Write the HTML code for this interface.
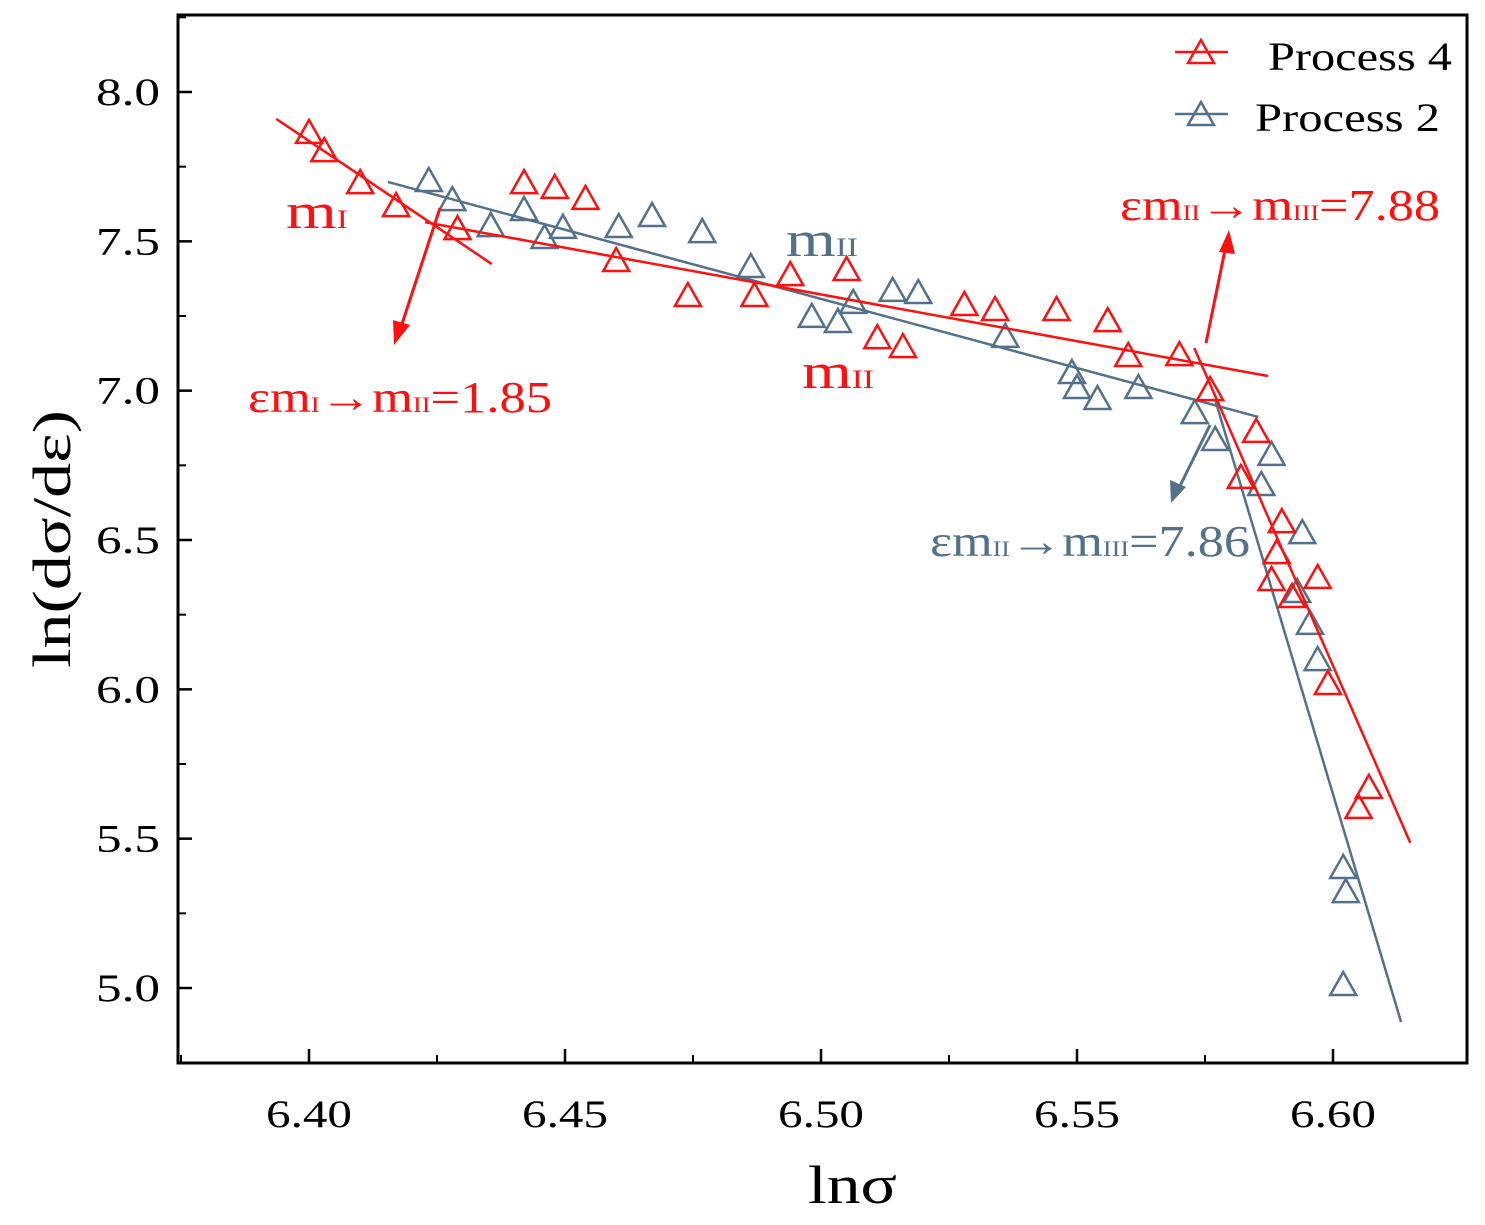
<!DOCTYPE html>
<html><head><meta charset="utf-8"><style>
body{margin:0;background:#fff}
svg text{font-family:"Liberation Serif",serif}
</style></head><body>
<svg id="chart" width="1485" height="1220" viewBox="0 0 1485 1220" xmlns="http://www.w3.org/2000/svg">
<g id="grid"></g>
<g id="marks"></g>
<g id="anno">
  <text x="286" y="228" fill="#ff1010" font-size="50" textLength="62" lengthAdjust="spacingAndGlyphs">m<tspan font-size="26">I</tspan></text>
  <text x="786" y="256" fill="#53718a" font-size="50" textLength="72" lengthAdjust="spacingAndGlyphs">m<tspan font-size="26">II</tspan></text>
  <text x="802" y="388" fill="#ff1010" font-size="50" textLength="72" lengthAdjust="spacingAndGlyphs">m<tspan font-size="26">II</tspan></text>
  <text x="248" y="412" fill="#ff1010" font-size="44" textLength="304" lengthAdjust="spacingAndGlyphs">εm<tspan font-size="22">I</tspan>→m<tspan font-size="22">II</tspan>=1.85</text>
  <text x="1120" y="220" fill="#ff1010" font-size="44" textLength="320" lengthAdjust="spacingAndGlyphs">εm<tspan font-size="22">II</tspan>→m<tspan font-size="22">III</tspan>=7.88</text>
  <text x="930" y="556" fill="#53718a" font-size="44" textLength="320" lengthAdjust="spacingAndGlyphs">εm<tspan font-size="22">II</tspan>→m<tspan font-size="22">III</tspan>=7.86</text>
  <g stroke="#ff1010" stroke-width="3" fill="#ff1010">
    <line x1="440" y1="208" x2="400" y2="330"/><polygon points="394,345 393,320 410,325" stroke="none"/></g>
  <g stroke="#ff1010" stroke-width="3" fill="#ff1010">
    <line x1="1206" y1="343" x2="1226" y2="245"/><polygon points="1229,230 1219,252 1235,254" stroke="none"/></g>
  <g stroke="#53718a" stroke-width="3" fill="#53718a">
    <line x1="1210" y1="425" x2="1178" y2="490"/><polygon points="1171,503 1170,480 1186,487" stroke="none"/></g>
</g>
<g>
  <line x1="1175" y1="52" x2="1228" y2="52" stroke="#ff1010" stroke-width="2.5"/>
  <polygon points="1201,40 1188,63 1214,63" fill="none" stroke="#ff1010" stroke-width="2.5"/>
  <text x="1268" y="70" font-size="40" textLength="184" lengthAdjust="spacingAndGlyphs">Process 4</text>
  <line x1="1175" y1="114" x2="1228" y2="114" stroke="#53718a" stroke-width="2.5"/>
  <polygon points="1201,102 1188,125 1214,125" fill="none" stroke="#53718a" stroke-width="2.5"/>
  <text x="1255" y="131" font-size="40" textLength="185" lengthAdjust="spacingAndGlyphs">Process 2</text>
</g>
<rect x="178" y="15" width="1289" height="1048" fill="none" stroke="#000" stroke-width="3"/>
<text x="808" y="1203" font-size="54" textLength="89" lengthAdjust="spacingAndGlyphs">lnσ</text>
<text transform="translate(70,668) rotate(-90)" font-size="54" textLength="258" lengthAdjust="spacingAndGlyphs">ln(dσ/dε)</text>
</svg>
<script>
const xTicks=[6.40,6.45,6.50,6.55,6.60];
const yTicks=[5.0,5.5,6.0,6.5,7.0,7.5,8.0];
const p4x=[6.400,6.403,6.410,6.417,6.429,6.442,6.448,6.454,6.460,6.474,6.487,6.494,6.505,6.511,6.516,6.528,6.534,6.546,6.556,6.560,6.570,6.576,6.585,6.582,6.590,6.589,6.588,6.592,6.597,6.599,6.605,6.607];
const p4y=[7.863,7.802,7.695,7.618,7.541,7.695,7.679,7.642,7.434,7.317,7.317,7.387,7.404,7.176,7.146,7.287,7.270,7.270,7.233,7.116,7.119,7.002,6.862,6.708,6.560,6.456,6.366,6.309,6.373,6.018,5.603,5.670];
const p2x=[6.4234,6.428,6.4355,6.442,6.446,6.4496,6.4605,6.467,6.4768,6.4863,6.4982,6.5033,6.5063,6.514,6.519,6.536,6.549,6.550,6.554,6.562,6.573,6.577,6.586,6.588,6.594,6.593,6.5955,6.597,6.602,6.6025,6.602];
const p2y=[7.702,7.638,7.551,7.605,7.511,7.545,7.548,7.585,7.531,7.414,7.247,7.230,7.294,7.334,7.327,7.180,7.059,7.009,6.972,7.009,6.925,6.835,6.684,6.785,6.523,6.326,6.219,6.098,5.402,5.321,5.010];
const fitP4=[[6.3936,7.910,6.4357,7.424],[6.4227,7.564,6.5873,7.049],[6.5729,7.143,6.6151,5.486]];
const fitP2=[[6.4154,7.699,6.5854,6.912],[6.5770,6.969,6.6133,4.886]];
const X=v=>309+(v-6.40)*5120;
const Y=v=>92+(8.0-v)*298.67;
const NS="http://www.w3.org/2000/svg";
const g=document.getElementById('grid'), m=document.getElementById('marks');
function el(t,a,p){const e=document.createElementNS(NS,t);for(const k in a)e.setAttribute(k,a[k]);p.appendChild(e);return e;}
for(let i=0;i<xTicks.length;i++){const x=X(xTicks[i]);
  const t=el('line',{x1:x,y1:1063,x2:x,y2:1049,stroke:'#000','stroke-width':2.5},g);
  
  
  const tx=el('text',{x:x-43,y:1127,'font-size':39,textLength:86,lengthAdjust:'spacingAndGlyphs'},g);tx.textContent=xTicks[i].toFixed(2);
  
  
}
for(let v=6.375;v<6.62;v+=0.05){const x=X(v);if(x>178&&x<1467){const t=el('line',{x1:x,y1:1063,x2:x,y2:1055,stroke:'#000','stroke-width':2},g);
  
  }}
for(let i=0;i<yTicks.length;i++){const y=Y(yTicks[i]);
  const t=el('line',{x1:178,y1:y,x2:192,y2:y,stroke:'#000','stroke-width':2.5},g);
  
  
  const tx=el('text',{x:96,y:y+13,'font-size':39,textLength:64,lengthAdjust:'spacingAndGlyphs'},g);tx.textContent=yTicks[i].toFixed(1);
  
  
}
for(let v=4.75;v<8.3;v+=0.5){const y=Y(v);if(y>15&&y<1063){const t=el('line',{x1:178,y1:y,x2:186,y2:y,stroke:'#000','stroke-width':2},g);
  
  }}
function series(xs,ys,fits,c,name){
  for(const f of fits){const l=el('line',{x1:X(f[0]),y1:Y(f[1]),x2:X(f[2]),y2:Y(f[3]),stroke:c,'stroke-width':2.5},m);
    
    }
  for(let i=0;i<xs.length;i++){const x=X(xs[i]),y=Y(ys[i]);
    const p=el('polygon',{points:`${x},${y-13} ${x-13},${y+10} ${x+13},${y+10}`,fill:'none',stroke:c,'stroke-width':2.5},m);
    
    }
}
series(p2x,p2y,fitP2,'#53718a','process-2');
series(p4x,p4y,fitP4,'#ff1010','process-4');
</script>
</body></html>
